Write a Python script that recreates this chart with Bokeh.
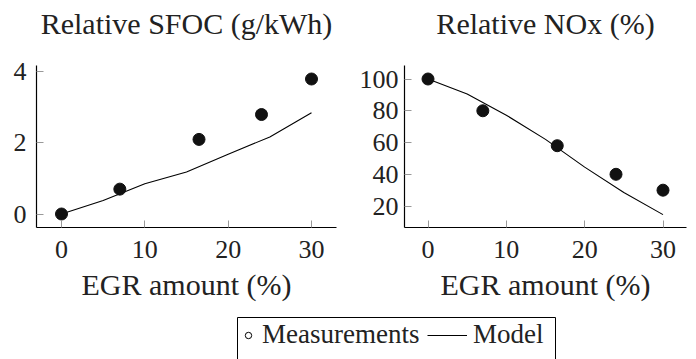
from bokeh.plotting import figure
from bokeh.layouts import column, row
from bokeh.models import FixedTicker, Legend, LegendItem, Label
from bokeh.embed import file_html
from bokeh.resources import INLINE

# EGR sweep: measured points and model curve
meas_egr = [0, 7, 16.5, 24, 30]
meas_sfoc = [0.0, 0.7, 2.1, 2.8, 3.8]
meas_nox = [100, 80, 58, 40, 30]

model_egr = [0, 5, 10, 15, 20, 25, 30]
model_sfoc = [0.0, 0.38, 0.85, 1.18, 1.68, 2.17, 2.85]
model_nox = [100, 90.6, 77.2, 62.0, 44.5, 28.5, 14.6]

x_ticks = [0, 10, 20, 30]
sfoc_ticks = [0, 2, 4]
nox_ticks = [20, 40, 60, 80, 100]

titles = ["Relative SFOC (g/kWh)", "Relative NOx (%)"]

FONT = "Liberation Serif"
INK = "#222222"


def pixel_strip(height):
    """A blank figure whose ranges are in pixels, for titles and the legend."""
    f = figure(width=696, height=height, x_range=(0, 696), y_range=(0, height),
               x_axis_type=None, y_axis_type=None,
               output_backend="svg", toolbar_location=None,
               min_border=0, min_border_left=0, min_border_right=0,
               min_border_top=0, min_border_bottom=0)
    f.outline_line_color = None
    f.grid.visible = False
    return f


def make_panel(y, y_range, y_ticks, left_border, y_standoff):
    p = figure(width=348, height=265, x_range=(-3, 33), y_range=y_range,
               output_backend="svg", toolbar_location=None,
               min_border_left=left_border, min_border_right=348 - left_border - 300 if left_border < 48 else 10,
               min_border_top=20, min_border_bottom=83)
    p.outline_line_color = None
    p.grid.visible = False
    p.background_fill_color = "white"
    p.border_fill_color = "white"

    p.line(model_egr, y[1], line_color="black", line_width=1.1)
    p.scatter(meas_egr, y[0], marker="circle", size=12,
              fill_color="#111111", line_color="#111111")

    p.xaxis.ticker = FixedTicker(ticks=x_ticks)
    p.yaxis.ticker = FixedTicker(ticks=y_ticks)
    for ax in (p.xaxis[0], p.yaxis[0]):
        ax.axis_line_color = "black"
        ax.axis_line_width = 1.2
        ax.major_tick_in = 7
        ax.major_tick_out = 0
        ax.major_tick_line_color = "#999999"
        ax.minor_tick_line_color = None
        ax.major_label_text_font = FONT
        ax.major_label_text_font_size = "26px"
        ax.major_label_text_color = INK
    p.xaxis.major_label_standoff = 13
    p.yaxis.major_label_standoff = y_standoff
    p.xaxis.axis_label = "EGR amount (%)"
    p.xaxis.axis_label_text_font = FONT
    p.xaxis.axis_label_text_font_size = "30px"
    p.xaxis.axis_label_text_font_style = "normal"
    p.xaxis.axis_label_text_color = INK
    p.xaxis.axis_label_standoff = 7
    return p


p1 = make_panel((meas_sfoc, model_sfoc), (-0.38, 4.18), sfoc_ticks, 36, 10)
p2 = make_panel((meas_nox, model_nox), (6.5, 108.5), nox_ticks, 56, 6)

# title strip: each title centred over its panel's frame
tf = pixel_strip(45)
for text, cx in zip(titles, [186, 545]):
    tf.add_layout(Label(x=cx, y=22, text=text, text_align="center",
                        text_baseline="middle", text_font=FONT,
                        text_font_size="30px", text_color=INK))

# shared legend strip below both panels
lf = pixel_strip(49)
lf.quad(left=[237], right=[555], top=[42], bottom=[-6],
        fill_color="white", line_color="black", line_width=1)
r_meas = lf.scatter(x=[-100], y=[-100], marker="circle", size=7,
                    fill_color="white", line_color="black", line_width=1)
r_model = lf.line(x=[-100, -90], y=[-100, -100], line_color="black", line_width=1.1)


def legend_part(label, renderer, x, glyph_width):
    leg = Legend(items=[LegendItem(label=label, renderers=[renderer])],
                 orientation="horizontal", location=(x, 9))
    leg.border_line_color = None
    leg.background_fill_alpha = 0
    leg.label_text_font = FONT
    leg.label_text_font_size = "27px"
    leg.label_text_color = INK
    leg.padding = 0
    leg.spacing = 0
    leg.margin = 0
    leg.glyph_width = glyph_width
    leg.glyph_height = 28
    leg.label_height = 28
    leg.label_standoff = 6
    return leg


lf.add_layout(legend_part("Measurements", r_meas, 240, 16), "center")
lf.add_layout(legend_part("Model", r_model, 427, 40), "center")

layout = column(tf, row(p1, p2), lf)
open("out.html", "w").write(file_html(layout, INLINE))
